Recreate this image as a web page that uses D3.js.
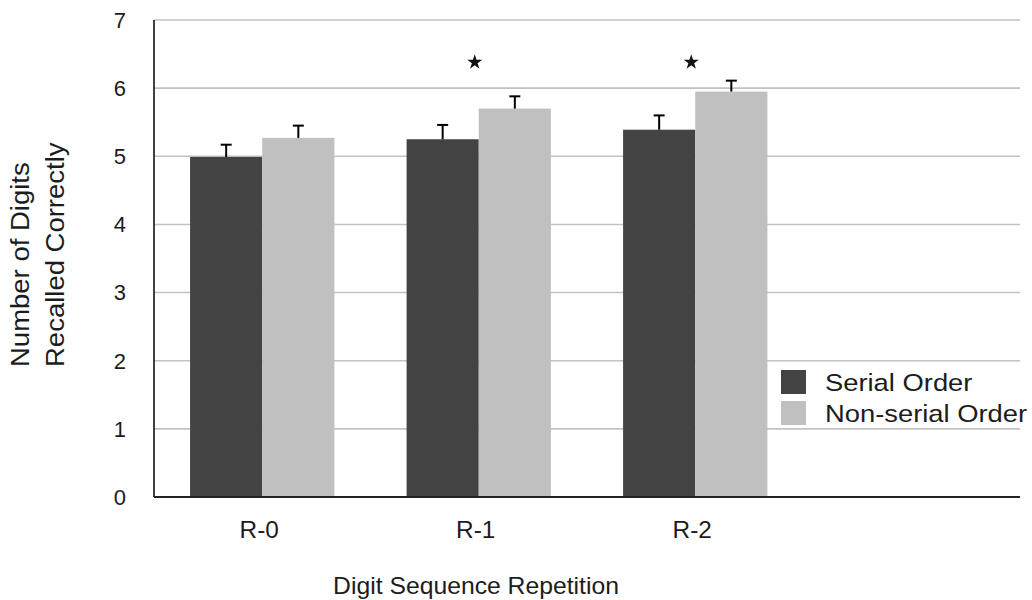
<!DOCTYPE html>
<html>
<head>
<meta charset="utf-8">
<script src="https://cdn.jsdelivr.net/npm/d3@7.9.0/dist/d3.min.js"></script>
<style>
  body { margin: 0; background: #fff; }
  svg text { font-family: "Liberation Sans", Arial, Helvetica, sans-serif; fill: #1c1c1c; }
</style>
</head>
<body>
<div id="chart"></div>
<script>
const groups = ['R-0', 'R-1', 'R-2'];
const seriesNames = ['Serial Order', 'Non-serial Order'];
const serialMeans = [4.99, 5.25, 5.39];
const serialErrors = [0.18, 0.21, 0.21];
const nonSerialMeans = [5.27, 5.70, 5.95];
const nonSerialErrors = [0.18, 0.18, 0.16];
const significant = [false, true, true];
const yTicks = [0, 1, 2, 3, 4, 5, 6, 7];

const colors = ['#434343', '#c0c0c0'];
const width = 1032;
const height = 600;
const margin = { top: 20, right: 12, bottom: 103, left: 154 };

const rows = groups.map((g, i) => ({
  group: g,
  values: [
    { key: seriesNames[0], mean: serialMeans[i], err: serialErrors[i] },
    { key: seriesNames[1], mean: nonSerialMeans[i], err: nonSerialErrors[i] },
  ],
  sig: significant[i],
}));

const svg = d3.select('#chart')
  .append('svg')
  .attr('width', width)
  .attr('height', height);

// the fourth, empty slot keeps room for the legend
const x0 = d3.scaleBand()
  .domain([...groups, ''])
  .range([margin.left, width - margin.right]);

const x1 = d3.scaleBand()
  .domain(seriesNames)
  .range([0, x0.bandwidth()])
  .paddingOuter(0.5);

const y = d3.scaleLinear()
  .domain([0, 7])
  .range([height - margin.bottom, margin.top]);

// gridlines
svg.append('g')
  .selectAll('line')
  .data(yTicks.filter(d => d > 0))
  .join('line')
  .attr('x1', margin.left)
  .attr('x2', width - margin.right)
  .attr('y1', d => y(d))
  .attr('y2', d => y(d))
  .attr('stroke', '#c2c2c2')
  .attr('stroke-width', 1.6);

// bars
const g = svg.append('g')
  .selectAll('g')
  .data(rows)
  .join('g')
  .attr('transform', d => `translate(${x0(d.group)},0)`);

g.selectAll('rect')
  .data(d => d.values)
  .join('rect')
  .attr('x', d => x1(d.key))
  .attr('y', d => y(d.mean))
  .attr('width', x1.bandwidth())
  .attr('height', d => y(0) - y(d.mean))
  .attr('fill', (d, i) => colors[i]);

// error bars (upper whisker only)
const eb = g.selectAll('g.err')
  .data(d => d.values)
  .join('g')
  .attr('class', 'err')
  .attr('stroke', '#000')
  .attr('stroke-width', 2);

eb.append('line')
  .attr('x1', d => x1(d.key) + x1.bandwidth() / 2)
  .attr('x2', d => x1(d.key) + x1.bandwidth() / 2)
  .attr('y1', d => y(d.mean))
  .attr('y2', d => y(d.mean + d.err));

eb.append('line')
  .attr('x1', d => x1(d.key) + x1.bandwidth() / 2 - 5.5)
  .attr('x2', d => x1(d.key) + x1.bandwidth() / 2 + 5.5)
  .attr('y1', d => y(d.mean + d.err))
  .attr('y2', d => y(d.mean + d.err));

// significance stars
svg.append('g')
  .selectAll('path')
  .data(rows.filter(d => d.sig))
  .join('path')
  .attr('d', d3.symbol(d3.symbolStar, 70))
  .attr('transform', d => `translate(${x0(d.group) + x0.bandwidth() / 2 - 4},${y(6.38)})`)
  .attr('fill', '#111');

// axes
svg.append('line')
  .attr('x1', margin.left)
  .attr('x2', margin.left)
  .attr('y1', y(7))
  .attr('y2', y(0))
  .attr('stroke', '#111')
  .attr('stroke-width', 1.6);

svg.append('line')
  .attr('x1', margin.left)
  .attr('x2', width - margin.right)
  .attr('y1', y(0))
  .attr('y2', y(0))
  .attr('stroke', '#222')
  .attr('stroke-width', 2);

svg.append('g')
  .selectAll('text')
  .data(yTicks)
  .join('text')
  .attr('x', margin.left - 28)
  .attr('y', d => y(d))
  .attr('dy', '0.36em')
  .attr('text-anchor', 'end')
  .style('font-size', '22px')
  .text(d => d);

svg.append('g')
  .selectAll('text')
  .data(groups)
  .join('text')
  .attr('transform', d => `translate(${x0(d) + x0.bandwidth() / 2 - 3},538) scale(1.06,1)`)
  .attr('text-anchor', 'middle')
  .style('font-size', '23px')
  .text(d => d);

svg.append('text')
  .attr('transform', 'translate(476,594) scale(1.03,1)')
  .attr('text-anchor', 'middle')
  .style('font-size', '24px')
  .text('Digit Sequence Repetition');

const yTitle = svg.append('text')
  .attr('transform', 'translate(0,367) rotate(-90) scale(1.1,1)')
  .attr('text-anchor', 'start')
  .style('font-size', '25px');
yTitle.append('tspan').attr('x', 0).attr('y', 29).text('Number of Digits');
yTitle.append('tspan').attr('x', 0).attr('y', 64).text('Recalled Correctly');

// legend
const legend = svg.append('g')
  .attr('transform', 'translate(781,370)')
  .selectAll('g')
  .data(seriesNames)
  .join('g')
  .attr('transform', (d, i) => `translate(0,${i * 31})`);

legend.append('rect')
  .attr('width', 25)
  .attr('height', 24)
  .attr('fill', (d, i) => colors[i]);

legend.append('text')
  .attr('transform', 'translate(44,21) scale(1.14,1)')
  .style('font-size', '24px')
  .text(d => d);
</script>
</body>
</html>
